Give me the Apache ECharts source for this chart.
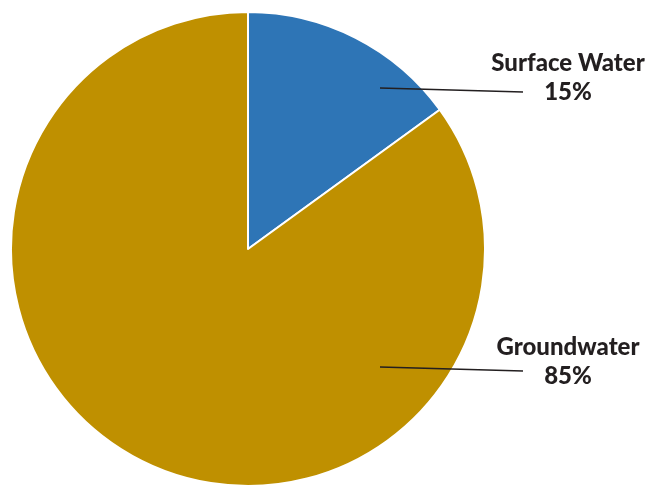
<!DOCTYPE html>
<html>
<head>
<meta charset="utf-8">
<script src="https://cdn.jsdelivr.net/npm/echarts@6/dist/echarts.min.js"></script>
<style>html,body{margin:0;padding:0;background:#fff}#c{width:652px;height:487px}</style>
</head>
<body>
<div id="c"></div>
<script>
const categories = ['Surface Water', 'Groundwater'];
const values = [15, 85];
const colors = ['#2e75b6', '#bf9000'];

const chart = echarts.init(document.getElementById('c'), null, {renderer: 'canvas'});
const cx = 248, cy = 249, R = 237;
// label anchor layout (relative to pie center)
const labelPos = [
  {x: 320, y: -171, lx0: 132, ly0: -161, lx1: 275, ly1: -157},
  {x: 320, y: 113, lx0: 132, ly0: 118, lx1: 275, ly1: 122}
];
const pieData = categories.map((n, i) => ({name: n, value: values[i], itemStyle: {color: colors[i]}}));
chart.setOption({
  animation: false,
  series: [{
    type: 'pie',
    z: 2,
    center: [cx, cy],
    radius: R,
    startAngle: 90,
    clockwise: true,
    data: pieData,
    itemStyle: {borderColor: '#fff', borderWidth: 2},
    label: {show: false},
    labelLine: {show: false}
  }, {
    type: 'pie',
    z: 5,
    silent: true,
    center: [cx, cy],
    radius: R,
    startAngle: 90,
    clockwise: true,
    data: categories.map((n, i) => ({name: n, value: values[i]})),
    itemStyle: {color: 'rgba(0,0,0,0)', borderWidth: 0},
    label: {
      show: true,
      formatter: '{b}\n{d}%',
      fontFamily: 'Lato',
      fontWeight: 900,
      fontSize: 24,
      lineHeight: 29,
      color: '#231f20',
      align: 'center',
      overflow: 'none',
      width: 250
    },
    labelLine: {show: true, lineStyle: {color: '#231f20', width: 1.5}},
    labelLayout: function (p) {
      const L = labelPos[p.dataIndex];
      return {
        x: cx + L.x, y: cy + L.y, align: 'center', verticalAlign: 'middle',
        labelLinePoints: [[cx + L.lx0, cy + L.ly0], [cx + (L.lx0 + L.lx1) / 2, cy + (L.ly0 + L.ly1) / 2], [cx + L.lx1, cy + L.ly1]]
      };
    }
  }]
});
</script>
</body>
</html>
